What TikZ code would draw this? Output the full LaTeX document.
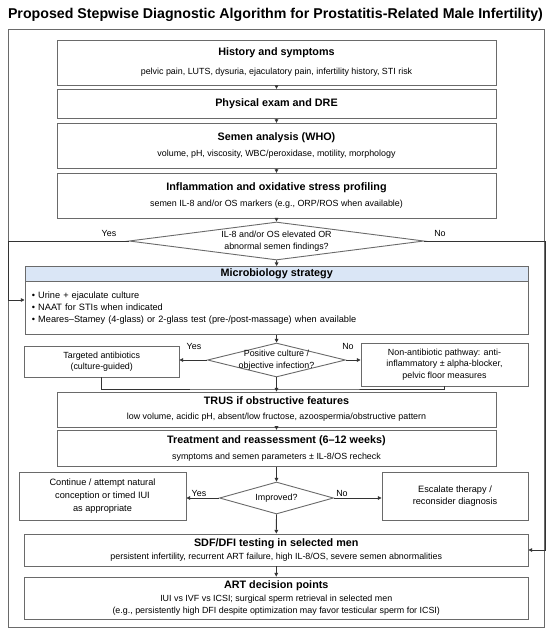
\documentclass[tikz,border=0pt]{standalone}
\usepackage{fontspec}
\setmainfont{Liberation Sans}
\usetikzlibrary{arrows.meta,shapes.geometric,calc}
\definecolor{boxline}{HTML}{6A6A6A}
\definecolor{connline}{HTML}{333333}
\definecolor{headfill}{HTML}{DAE6F6}
\newcommand\boxttl[1]{{\bfseries\fontsize{10.8}{13}\selectfont #1}}
\begin{document}
\begin{tikzpicture}[x=1pt,y=-1pt,
  box/.style={draw=boxline, line width=0.9pt, fill=white, inner sep=0pt, align=center},
  dia/.style={draw=boxline, line width=0.9pt, shape=diamond, inner sep=0pt, fill=white},
  dtext/.style={inner sep=0pt, align=center, font=\fontsize{8.9}{11.5}\selectfont},
  lbl/.style={inner sep=0pt, font=\fontsize{8.9}{11}\selectfont},
  conn/.style={draw=connline, line width=0.8pt},
  arr/.style={conn, -{Triangle[length=3.6pt,width=3.6pt]}}]
\useasboundingbox (0,0) rectangle (550,633);
\node[font=\bfseries\fontsize{14.2}{17}\selectfont, anchor=base, inner sep=0pt] (title) at (275.5,18) {Proposed Stepwise Diagnostic Algorithm for Prostatitis-Related Male Infertility)};
\node[draw=boxline, line width=0.9pt, minimum width=536pt, minimum height=598pt, inner sep=0pt, anchor=north west] (frame) at (8,29) {};
% stacked boxes
\node[box, minimum width=439pt, minimum height=45pt, font=\fontsize{8.9}{19}\selectfont] (hist) at (276.5,62.5) {\boxttl{History and symptoms}\\pelvic pain, LUTS, dysuria, ejaculatory pain, infertility history, STI risk};
\node[box, minimum width=439pt, minimum height=29pt, font=\fontsize{8.9}{11}\selectfont] (phys) at (276.5,103.8) {\boxttl{Physical exam and DRE}};
\node[box, minimum width=439pt, minimum height=45pt, font=\fontsize{8.9}{16}\selectfont] (semen) at (276.5,145.8) {\boxttl{Semen analysis (WHO)}\\volume, pH, viscosity, WBC/peroxidase, motility, morphology};
\node[box, minimum width=439pt, minimum height=45pt, font=\fontsize{8.9}{16}\selectfont] (infl) at (276.5,195.8) {\boxttl{Inflammation and oxidative stress profiling}\\semen IL-8 and/or OS markers (e.g., ORP/ROS when available)};
% decision 1
\node[dia, minimum width=295pt, minimum height=38pt] (d1) at (276.5,241) {};
\node[dtext] (d1t) at (d1.center) {IL-8 and/or OS elevated OR\\abnormal semen findings?};
\node[lbl] (yes1) at (109,233) {Yes};
\node[lbl] (no1) at (440,233) {No};
% microbiology
\node[box, anchor=north west, minimum width=503.5pt, minimum height=53.3pt, text width=489.5pt, inner xsep=7pt, align=left, font=\fontsize{9.2}{12.2}\selectfont] (mbody) at (24.5,281) {• Urine + ejaculate culture\\• NAAT for STIs when indicated\\• Meares–Stamey (4-glass) or 2-glass test (pre-/post-massage) when available};
\node[box, fill=headfill, anchor=north west, minimum width=503.5pt, minimum height=15pt] (mhead) at (24.5,266) {\boxttl{Microbiology strategy}};
\coordinate (mL) at (24.5,300);
% decision 2
\node[dia, minimum width=138pt, minimum height=34pt] (d2) at (276.5,360) {};
\node[dtext] (d2t) at (d2.center) {Positive culture /\\objective infection?};
\node[box, minimum width=154.5pt, minimum height=31pt, font=\fontsize{8.9}{11.5}\selectfont] (targ) at (101.75,361.5) {Targeted antibiotics\\(culture-guided)};
\node[box, minimum width=167pt, minimum height=43pt, font=\fontsize{8.9}{11.7}\selectfont] (nonab) at (444.5,364.5) {Non-antibiotic pathway: anti-\\inflammatory ± alpha-blocker,\\pelvic floor measures};
\node[lbl] (yes2) at (194,346) {Yes};
\node[lbl] (no2) at (348,346) {No};
\coordinate (join) at (276.5,389);
% TRUS and treatment
\node[box, minimum width=439pt, minimum height=35pt, font=\fontsize{8.9}{15}\selectfont] (trus) at (276.5,409.5) {\boxttl{TRUS if obstructive features}\\low volume, acidic pH, absent/low fructose, azoospermia/obstructive pattern};
\node[box, minimum width=439pt, minimum height=36.5pt, font=\fontsize{8.9}{15.5}\selectfont] (treat) at (276.5,448.5) {\boxttl{Treatment and reassessment (6–12 weeks)}\\symptoms and semen parameters ± IL-8/OS recheck};
% decision 3
\node[dia, minimum width=114pt, minimum height=32pt] (d3) at (276.5,498) {};
\node[dtext] (d3t) at (d3.center) {Improved?};
\node[box, minimum width=167pt, minimum height=48pt, font=\fontsize{9.2}{13}\selectfont] (cont) at (102.5,496) {Continue / attempt natural\\conception or timed IUI\\as appropriate};
\node[box, minimum width=146pt, minimum height=48pt, font=\fontsize{9.2}{12}\selectfont] (esc) at (455,496) {Escalate therapy /\\reconsider diagnosis};
\node[lbl] (yes3) at (199,493) {Yes};
\node[lbl] (no3) at (342,493) {No};
% SDF and ART
\node[box, minimum width=503.5pt, minimum height=32pt, font=\fontsize{8.9}{12.5}\selectfont] (sdf) at (276.25,550) {\boxttl{SDF/DFI testing in selected men}\\persistent infertility, recurrent ART failure, high IL-8/OS, severe semen abnormalities};
\node[box, minimum width=503.5pt, minimum height=42pt, font=\fontsize{8.9}{11.5}\selectfont] (art) at (276.25,598) {\boxttl{ART decision points}\\[1.5pt]IUI vs IVF vs ICSI; surgical sperm retrieval in selected men\\(e.g., persistently high DFI despite optimization may favor testicular sperm for ICSI)};
% connectors
\coordinate (fyes) at (frame.west |- d1.west);
\coordinate (fno) at (frame.east |- d1.east);
\draw[arr] (hist) -- (phys);
\draw[arr] (phys) -- (semen);
\draw[arr] (semen) -- (infl);
\draw[arr] (infl) -- (d1);
\draw[arr] (d1) -- (mhead);
\draw[arr] (d1.west) -- (fyes) |- (mL);
\draw[arr] (d1.east) -- (fno) |- (sdf.east);
\draw[arr] (mbody) -- (d2);
\draw[arr] (d2.west) -- (d2.west -| targ.east);
\draw[arr] (d2.east) -- (d2.east -| nonab.west);
\draw[conn] (targ.south) |- (join) -| (nonab.south);
\draw[arr] (d2) -- (trus);
\draw[arr] (trus) -- (treat);
\draw[arr] (treat) -- (d3);
\draw[arr] (d3.west) -- (d3.west -| cont.east);
\draw[arr] (d3.east) -- (d3.east -| esc.west);
\draw[arr] (d3) -- (sdf);
\draw[arr] (sdf) -- (art);
\end{tikzpicture}
\end{document}
